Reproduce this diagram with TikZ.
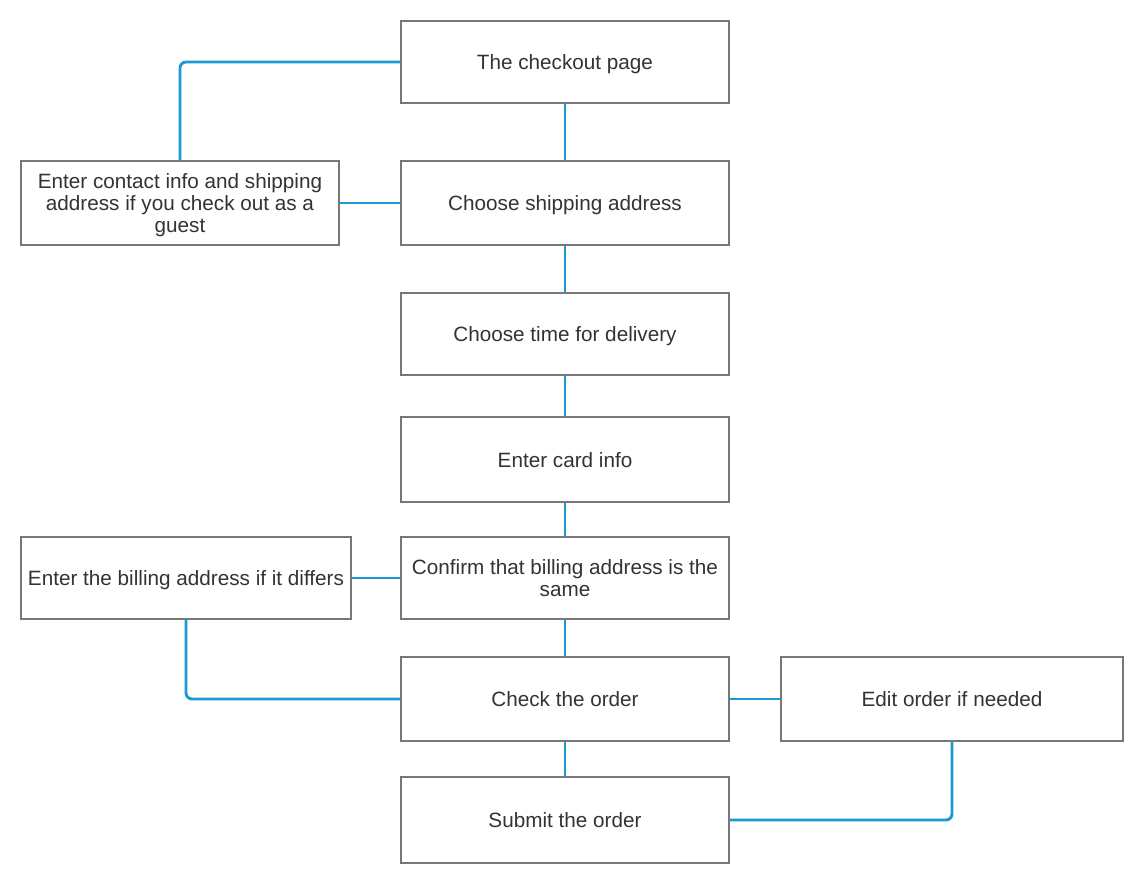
\documentclass[tikz,border=0pt]{standalone}
\usepackage{fontspec}
\setmainfont{Liberation Sans}
\definecolor{boxgray}{HTML}{777777}
\definecolor{txt}{HTML}{333333}
\definecolor{link}{HTML}{1A9AD2}
\begin{document}
\begin{tikzpicture}[x=1pt,y=-1pt,
  box/.style={draw=boxgray,line width=1.6pt,fill=white,inner sep=0pt,
    text=txt,align=center,text depth=0pt,font=\fontsize{20.7}{22}\selectfont},
  link/.style={draw=link,line width=2.9pt,rounded corners=6pt}]
\useasboundingbox (0,0) rectangle (1148,890);
\node[box,minimum width=328pt,minimum height=82pt] (checkout) at (565,62) {The checkout page};
\node[box,minimum width=328pt,minimum height=84pt] (ship) at (565,203) {Choose shipping address};
\node[box,minimum width=318pt,minimum height=84pt] (contact) at (180,203) {Enter contact info and shipping\\address if you check out as a\\guest};
\node[box,minimum width=328pt,minimum height=82pt] (time) at (565,334) {Choose time for delivery};
\node[box,minimum width=328pt,minimum height=85pt] (card) at (565,459.5) {Enter card info};
\node[box,minimum width=328pt,minimum height=82pt] (confirm) at (565,578) {Confirm that billing address is the\\same};
\node[box,minimum width=330pt,minimum height=82pt] (billing) at (186,578) {Enter the billing address if it differs};
\node[box,minimum width=328pt,minimum height=84pt] (check) at (565,699) {Check the order};
\node[box,minimum width=342pt,minimum height=84pt] (edit) at (952,699) {Edit order if needed};
\node[box,minimum width=328pt,minimum height=86pt] (submit) at (565,820) {Submit the order};
\draw[link] (checkout.west) -| (contact.north);
\draw[link] (contact.east) -- (ship.west);
\draw[link] (checkout.south) -- (ship.north);
\draw[link] (ship.south) -- (time.north);
\draw[link] (time.south) -- (card.north);
\draw[link] (card.south) -- (confirm.north);
\draw[link] (confirm.south) -- (check.north);
\draw[link] (check.south) -- (submit.north);
\draw[link] (billing.east) -- (confirm.west);
\draw[link] (billing.south) |- (check.west);
\draw[link] (check.east) -- (edit.west);
\draw[link] (submit.east) -| (edit.south);
\end{tikzpicture}
\end{document}
